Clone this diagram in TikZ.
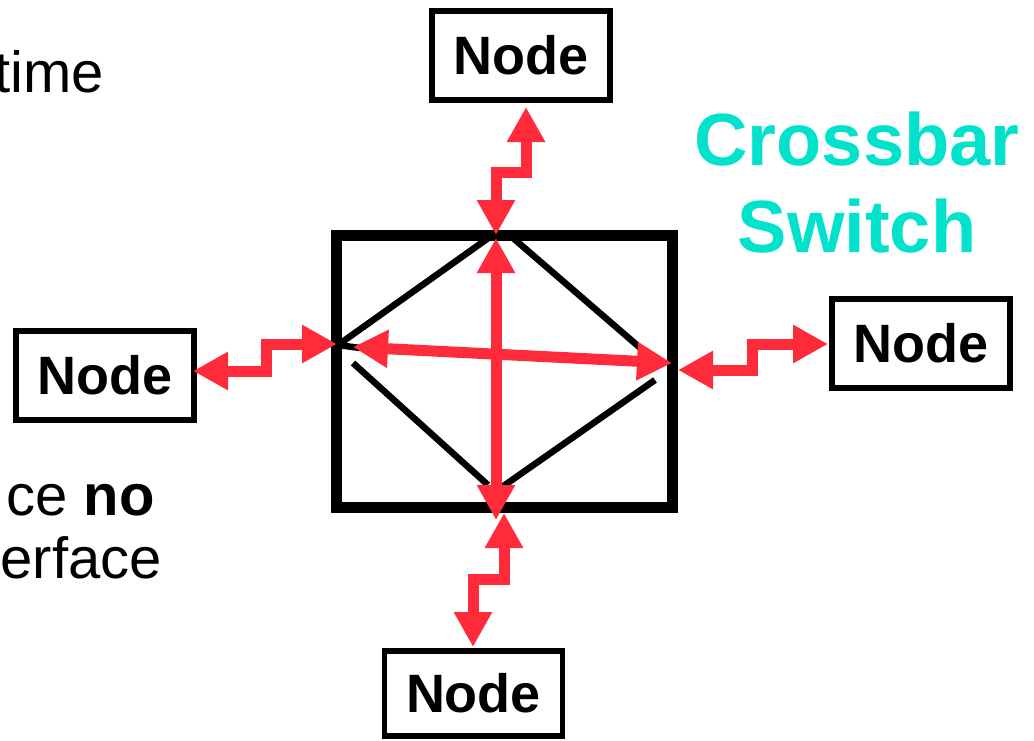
\documentclass[tikz,border=0pt]{standalone}
\usepackage{fontspec}
\setmainfont{Liberation Sans}
\usetikzlibrary{arrows.meta}
\definecolor{xred}{RGB}{255,42,58}
\definecolor{xcyan}{RGB}{0,226,204}
\tikzset{
  nodebox/.style={draw=black, line width=5.5pt, minimum width=178pt, minimum height=89pt, inner sep=0pt, font=\fontsize{54}{60}\selectfont\bfseries},
  link/.style={draw=xred, line width=11pt, miter limit=10, line join=miter, {Triangle[length=35pt,width=36pt]}-{Triangle[length=35pt,width=36pt]}},
  wire/.style={draw=black, line width=6.5pt},
  bodytext/.style={inner sep=0pt, font=\fontsize{58}{63}\selectfont},
}
\begin{document}
\begin{tikzpicture}[x=1pt,y=-1pt]
\useasboundingbox (0,0) rectangle (1034,740);
% side text
\node[bodytext, anchor=base east] (t1) at (104,92) {time};
\node[bodytext, anchor=base east] (t2) at (155,515) {ce \textbf{no}};
\node[bodytext, anchor=base east] (t3) at (162,578) {erface};
\node[inner sep=0pt, text=xcyan, align=center, font=\fontsize{74}{87}\selectfont\bfseries] (title) at (857,183) {Crossbar\\Switch};
% nodes
\node[nodebox] (top) at (521,55.5) {Node};
\node[nodebox] (left) at (104.75,375.5) {Node};
\node[nodebox] (right) at (921,343.5) {Node};
\node[nodebox, minimum height=85pt] (bot) at (473.5,693.5) {Node};
% switch
\node[draw=black, line width=11pt, minimum width=336pt, minimum height=272pt, inner sep=0pt] (sw) at (504,371) {};
% internal wires
\coordinate (wl1) at (338,345);
\coordinate (wt1) at (494,234);
\coordinate (wt2) at (513,238);
\coordinate (wr1) at (645,352);
\coordinate (wl2) at (353,363);
\coordinate (wb1) at (488,485);
\coordinate (wb2) at (502,487);
\coordinate (wr2) at (655,380);
\coordinate (wl3) at (360,348);
\draw[wire] (wl1) -- (wt1);
\draw[wire] (wt2) -- (wr1);
\draw[wire] (wl2) -- (wb1);
\draw[wire] (wb2) -- (wr2);
\draw[wire] (wl1) -- (wl3);
% internal crossbar arrows
\coordinate (iT) at (496,238);
\coordinate (iB) at (496,520);
\coordinate (iL) at (353,347);
\coordinate (iR) at (672,363);
\draw[link] (iT) -- (iB);
\draw[link] (iL) -- (iR);
% links to nodes
\coordinate (pT1) at (526,107);
\coordinate (pT2) at (496,235);
\draw[link] (pT1) -- (526,172) -- (496,172) -- (pT2);
\coordinate (pL1) at (193,371);
\coordinate (pL2) at (337,344);
\draw[link] (pL1) -- (266,371) -- (266,344) -- (pL2);
\coordinate (pR1) at (678,370);
\coordinate (pR2) at (828,344);
\draw[link] (pR1) -- (752,370) -- (752,344) -- (pR2);
\coordinate (pB1) at (504,513);
\coordinate (pB2) at (473,647);
\draw[link] (pB1) -- (504,579) -- (473,579) -- (pB2);
\end{tikzpicture}
\end{document}
